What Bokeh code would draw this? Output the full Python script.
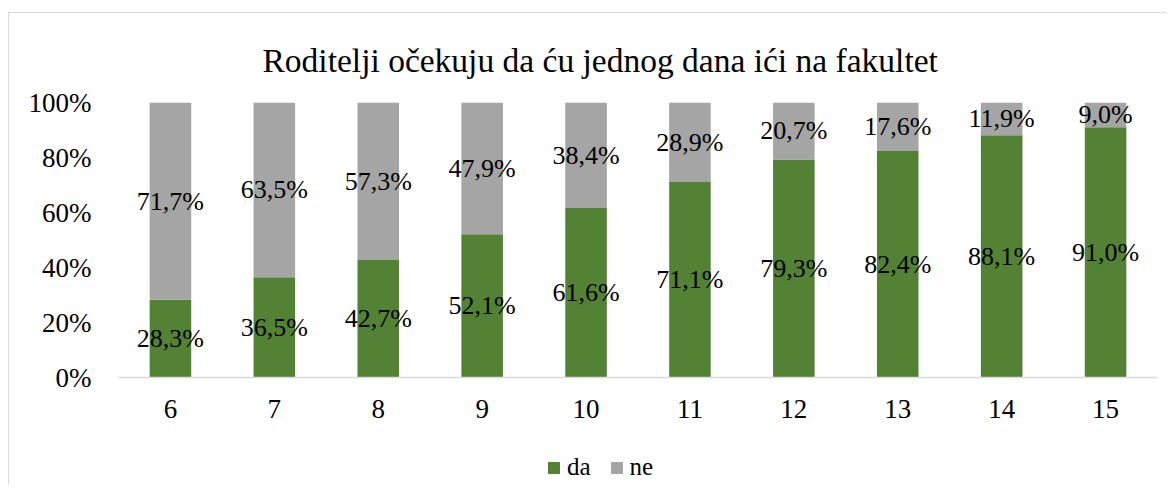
from bokeh.plotting import figure
from bokeh.models import (ColumnDataSource, FactorRange, NumeralTickFormatter, Legend,
                          LegendItem, FixedTicker)
from bokeh.layouts import column
from bokeh.embed import file_html
from bokeh.resources import INLINE
from bokeh.core.properties import value

# ---- data ----
categories = ["6", "7", "8", "9", "10", "11", "12", "13", "14", "15"]
da = [28.3, 36.5, 42.7, 52.1, 61.6, 71.1, 79.3, 82.4, 88.1, 91.0]
ne = [71.7, 63.5, 57.3, 47.9, 38.4, 28.9, 20.7, 17.6, 11.9, 9.0]
series = ["da", "ne"]
colors = ["#548235", "#A5A5A5"]
y_ticks = [0, 0.2, 0.4, 0.6, 0.8, 1.0]
title_text = "Roditelji očekuju da ću jednog dana ići na fakultet"

FONT = "Liberation Serif"


def fmt(v):
    return f"{v:.1f}".replace(".", ",") + "%"


src = ColumnDataSource(dict(
    cat=categories,
    da=[v / 100 for v in da],
    ne=[v / 100 for v in ne],
    da_pos=[v / 200 for v in da],
    ne_pos=[(d + n / 2) / 100 for d, n in zip(da, ne)],
    da_lbl=[fmt(v) for v in da],
    ne_lbl=[fmt(v) for v in ne],
))

# ---- main chart ----
p = figure(x_range=FactorRange(*categories), y_range=(0, 1),
           width=1157, height=426,
           output_backend="svg", toolbar_location=None,
           min_border_left=109, min_border_right=9,
           min_border_top=89, min_border_bottom=62)
p.outline_line_color = None
p.xgrid.visible = False
p.ygrid.visible = False

p.vbar_stack(series, x="cat", width=0.4, color=colors, source=src, line_color=None)

for col, lbl in (("da_pos", "da_lbl"), ("ne_pos", "ne_lbl")):
    p.text(x="cat", y=col, text=lbl, source=src, text_align="center",
           text_baseline="middle", text_font=value(FONT), text_font_size="26px",
           text_color="#000000")

p.yaxis.ticker = FixedTicker(ticks=y_ticks)
p.yaxis.formatter = NumeralTickFormatter(format="0%")
p.yaxis.axis_line_color = None
p.yaxis.major_tick_line_color = None
p.yaxis.minor_tick_line_color = None
p.yaxis.major_label_standoff = 21
p.xaxis.axis_line_color = "#D9D9D9"
p.xaxis.axis_line_width = 1.5
p.xaxis.major_tick_line_color = None
p.xaxis.minor_tick_line_color = None
p.xaxis.major_label_standoff = 16
for ax in (p.xaxis[0], p.yaxis[0]):
    ax.major_label_text_font = FONT
    ax.major_label_text_font_size = "27px"
    ax.major_label_text_color = "#000000"

p.title.text = title_text
p.title.align = "left"
p.title.offset = 144
p.title.standoff = 47
p.title.text_font = FONT
p.title.text_font_size = "33.5px"
p.title.text_font_style = "normal"
p.title.text_color = "#000000"

# ---- legend strip ----
lf = figure(x_range=FactorRange(*categories), y_range=(0, 1),
            width=1157, height=45, x_axis_type=None, y_axis_type=None,
            output_backend="svg", toolbar_location=None, min_border=0)
lf.outline_line_color = None
lf.xgrid.visible = False
lf.ygrid.visible = False
lrs = lf.vbar_stack(series, x="cat", width=0.4, color=colors, source=src,
                    line_color=None, visible=False)
legend = Legend(items=[LegendItem(label=s, renderers=[r]) for s, r in zip(series, lrs)],
                orientation="horizontal", location=(428, 3),
                glyph_width=15, glyph_height=15, label_standoff=6, spacing=18,
                padding=0, margin=0, border_line_color=None,
                background_fill_alpha=0,
                label_text_font=FONT, label_text_font_size="25px",
                label_text_color="#000000")
lf.add_layout(legend)

layout = column(p, lf, spacing=0, margin=(12, 0, 0, 8),
                styles={"border-left": "1.5px solid #D9D9D9",
                        "border-top": "1.5px solid #D9D9D9"})

open("out.html", "w").write(file_html(layout, INLINE))
